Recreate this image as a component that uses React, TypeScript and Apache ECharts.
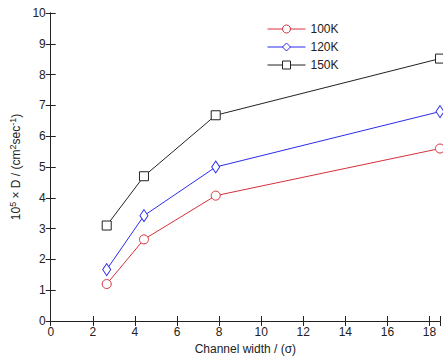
import React, { useEffect, useRef } from "react";
import * as echarts from "echarts";

const channelWidth = [2.66, 4.43, 7.84, 18.5];
const d100K = [1.2, 2.65, 4.07, 5.6];
const d120K = [1.67, 3.42, 5.0, 6.8];
const d150K = [3.1, 4.7, 6.68, 8.52];
const seriesNames = ["100K", "120K", "150K"];

export default function App() {
  const ref = useRef<HTMLDivElement>(null);
  useEffect(() => {
    const chart = echarts.init(ref.current!, null, { renderer: "svg" });
    const pair = (ys: number[]) => channelWidth.map((x, i) => [x, ys[i]]);
    const font = "Liberation Sans, Arial, sans-serif";
    const axisCommon = {
      min: 0,
      axisLine: { show: true, lineStyle: { color: "#222", width: 1 } },
      axisTick: { show: true, inside: true, length: 5, lineStyle: { color: "#222" } },
      splitLine: { show: false },
    };
    const mk = (name: string, data: number[], color: string, symbol: string) => ({
      name,
      type: "line",
      data: pair(data),
      symbol,
      symbolSize: symbol === "diamond" ? [8, 12] : 9,
      showAllSymbol: true,
      lineStyle: { color, width: 1 },
      itemStyle: { color: "#fff", borderColor: color, borderWidth: 1 },
      emphasis: { disabled: true },
    });
    chart.setOption({
      animation: false,
      backgroundColor: "#fff",
      textStyle: { fontFamily: font },
      grid: { left: 50, right: 2, top: 13, bottom: 39 },
      legend: {
        data: seriesNames,
        orient: "vertical",
        left: 262,
        top: 18,
        itemWidth: 38,
        itemHeight: 10,
        itemGap: 6,
        lineStyle: { width: 1 },
        itemStyle: { borderWidth: 1 },
        textStyle: { fontFamily: font, fontSize: 12, color: "#222" },
      },
      xAxis: [
        {
          ...axisCommon,
          type: "value",
          max: 18.5,
          interval: 2,
          position: "bottom",
          axisLabel: {
            color: "#222",
            fontSize: 12,
            margin: 5,
            formatter: (v: number) => (v % 2 === 0 ? String(v) : ""),
          },
          name: "Channel width / (σ)",
          nameLocation: "middle",
          nameGap: 21,
          nameTextStyle: { color: "#222", fontSize: 12 },
        },
        {
          ...axisCommon,
          type: "value",
          max: 18.5,
          interval: 2,
          position: "top",
          axisLabel: { show: false },
        },
      ],
      yAxis: [
        {
          ...axisCommon,
          type: "value",
          max: 10,
          interval: 1,
          position: "left",
          axisLabel: { color: "#222", fontSize: 12, margin: 5 },
          name: "{a|10}{s|5}{a| × D / (cm}{s|2}{a|sec}{s|-1}{a|)}",
          nameLocation: "middle",
          nameGap: 20,
          nameTextStyle: {
            rich: {
              a: { fontSize: 12, color: "#222", fontFamily: font },
              s: { fontSize: 9, color: "#222", fontFamily: font, verticalAlign: "top", padding: [0, 0, 6, 0] },
            },
          },
        },
        {
          ...axisCommon,
          type: "value",
          max: 10,
          interval: 1,
          position: "right",
          axisLabel: { show: false },
        },
      ],
      series: [
        mk("100K", d100K, "#d6303c", "circle"),
        mk("120K", d120K, "#2b2bf0", "diamond"),
        mk("150K", d150K, "#222222", "rect"),
      ],
    });
    return () => chart.dispose();
  }, []);
  return <div ref={ref} style={{ width: 443, height: 360, position: "absolute", left: 0, top: 0 }} />;
}
